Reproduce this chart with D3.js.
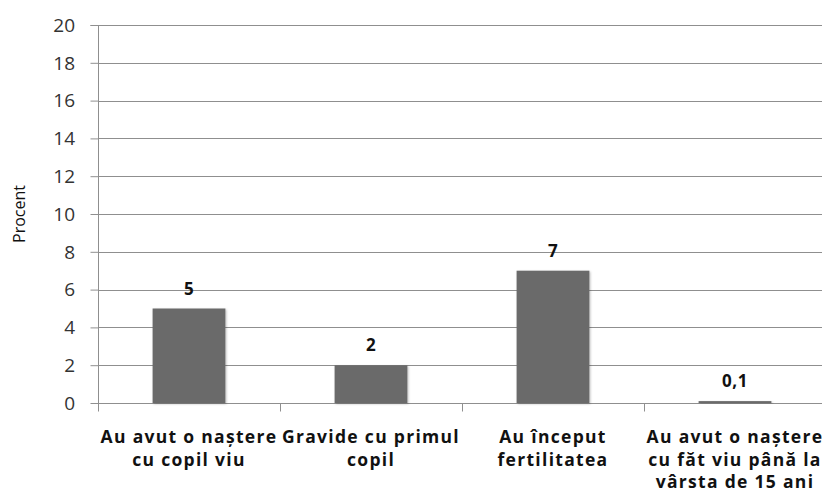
<!DOCTYPE html>
<html><head><meta charset="utf-8">
<script src="https://cdn.jsdelivr.net/npm/d3@7"></script>
<style>body{margin:0;background:#fff}svg{display:block}</style>
</head><body>
<script>
const categories = [
  ["Au avut o naștere", "cu copil viu"],
  ["Gravide cu primul", "copil"],
  ["Au început", "fertilitatea"],
  ["Au avut o naștere", "cu făt viu până la", "vârsta de  15 ani"]
];
const values = [5, 2, 7, 0.1];
const valueLabels = ["5", "2", "7", "0,1"];
const yTicks = [0, 2, 4, 6, 8, 10, 12, 14, 16, 18, 20];
const yTitle = "Procent";

const W = 822, H = 496;
const m = {left: 98, right: 0, top: 25, bottom: 93};
const svg = d3.select("body").append("svg").attr("width", W).attr("height", H);
const defs = svg.append("defs");
const f = defs.append("filter").attr("id","sh").attr("x","-20%").attr("y","-20%").attr("width","140%").attr("height","140%");
f.append("feDropShadow").attr("dx",1).attr("dy",1).attr("stdDeviation",1.2).attr("flood-color","#000").attr("flood-opacity",0.25);

const x = d3.scaleBand().domain(d3.range(categories.length)).range([m.left, m.left + 182*4]).paddingInner(0.6).paddingOuter(0.3);
const y = d3.scaleLinear().domain([0, 20]).range([H - m.bottom, m.top]);

const font = "'Open Sans', sans-serif";
const gridCol = "#8f8f8f";
// gridlines
svg.append("g").selectAll("line").data(yTicks.filter(d => d > 0)).join("line")
  .attr("x1", m.left).attr("x2", W).attr("y1", d => Math.round(y(d)) + 0.5).attr("y2", d => Math.round(y(d)) + 0.5)
  .attr("stroke", gridCol).attr("stroke-width", 1);

// y axis (lines via d3 axis, labels drawn from the same scale)
const ya = svg.append("g").attr("transform", `translate(${m.left + 0.5},0)`)
  .call(d3.axisLeft(y).tickValues(yTicks).tickSize(8).tickFormat(""));
ya.select(".domain").attr("stroke", gridCol).attr("d", `M-8,${Math.round(y(20))+0.5}H0V${Math.round(y(0))+0.5}`);
ya.selectAll(".tick line").attr("stroke", gridCol);
svg.append("g").selectAll("text").data(yTicks).join("text")
  .attr("x", 75).attr("y", d => y(d)).attr("dy", "0.36em").attr("text-anchor", "end")
  .attr("font-family", font).attr("font-size", 19).attr("fill", "#333")
  .text(d3.format("d"));

// x axis
const xa = svg.append("g").attr("transform", `translate(0,${Math.round(y(0)) + 0.5})`);
xa.append("line").attr("x1", m.left).attr("x2", W).attr("stroke", gridCol);
xa.selectAll("line.t").data(d3.range(categories.length + 1)).join("line").attr("class","t")
  .attr("x1", i => Math.round(x(0) - x.step()*0.3 + i*x.step()) + 0.5)
  .attr("x2", i => Math.round(x(0) - x.step()*0.3 + i*x.step()) + 0.5)
  .attr("y1", 0).attr("y2", 8).attr("stroke", gridCol);

// bars
svg.append("g").selectAll("rect").data(values).join("rect")
  .attr("x", (d, i) => x(i)).attr("width", x.bandwidth())
  .attr("y", d => y(d)).attr("height", d => y(0) - y(d))
  .attr("fill", "#6b6b6b").attr("filter", "url(#sh)");

// value labels
svg.append("g").selectAll("text").data(values).join("text")
  .attr("x", (d, i) => x(i) + x.bandwidth()/2).attr("y", d => y(d) - 14)
  .attr("text-anchor", "middle").style("font-family", font).style("font-weight", "bold")
  .style("font-size", "17px").style("letter-spacing", "0.5px").attr("fill", "#111").text((d, i) => valueLabels[i]);

// category labels
const cl = svg.append("g").selectAll("text").data(categories).join("text")
  .attr("x", (d, i) => x(i) + x.bandwidth()/2).attr("y", 443)
  .attr("text-anchor", "middle").style("font-family", font).style("font-weight", "bold")
  .style("font-size", "17.5px").style("letter-spacing", "1.3px").attr("fill", "#111");
cl.selectAll("tspan").data(d => d).join("tspan")
  .attr("x", function(){ return this.parentNode.getAttribute("x"); })
  .attr("dy", (d, j) => j === 0 ? 0 : 22.5).text(d => d);

// y title
svg.append("text").attr("transform", `translate(25,${(y(0)+y(20))/2}) rotate(-90)`)
  .attr("text-anchor", "middle").style("font-family", font).style("font-size", "16px").attr("fill", "#111")
  .text(yTitle);
</script>
</body></html>
